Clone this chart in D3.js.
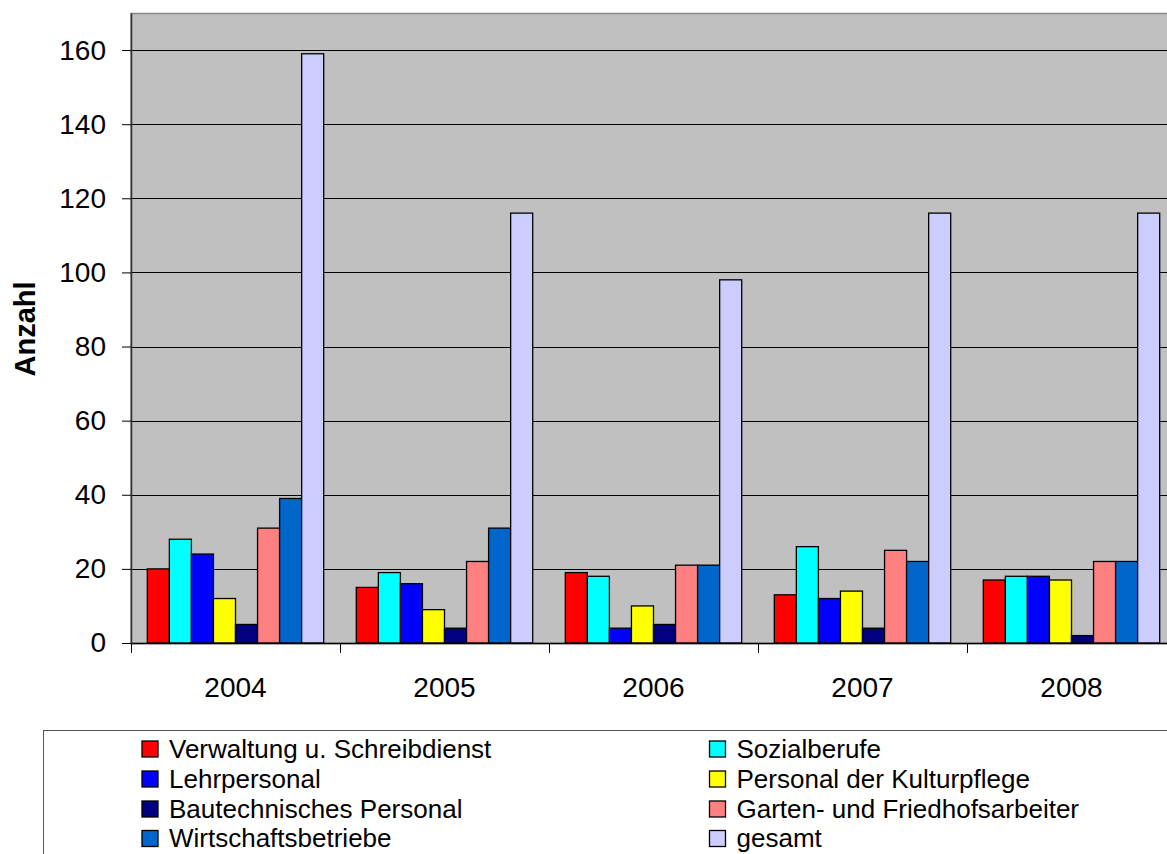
<!DOCTYPE html>
<html><head><meta charset="utf-8">
<script src="https://cdn.jsdelivr.net/npm/d3@7"></script>
<style>body{margin:0;background:#fff}svg{display:block;font-family:Arial,"Liberation Sans",sans-serif}</style>
</head><body><svg id="c" width="1167" height="854"></svg>
<script>
const years = ["2004","2005","2006","2007","2008"];
const seriesNames = ["Verwaltung u. Schreibdienst","Sozialberufe","Lehrpersonal","Personal der Kulturpflege","Bautechnisches Personal","Garten- und Friedhofsarbeiter","Wirtschaftsbetriebe","gesamt"];
const seriesColors = ["#ff0000","#00ffff","#0000ff","#ffff00","#000080","#ff8080","#0066cc","#ccccff"];
const verwaltung = [20,15,19,13,17];
const sozialberufe = [28,19,18,26,18];
const lehrpersonal = [24,16,4,12,18];
const kulturpflege = [12,9,10,14,17];
const bautechnisch = [5,4,5,4,2];
const garten = [31,22,21,25,22];
const wirtschaft = [39,31,21,22,22];
const gesamt = [159,116,98,116,116];
const seriesValues = [verwaltung,sozialberufe,lehrpersonal,kulturpflege,bautechnisch,garten,wirtschaft,gesamt];
const yTicks = [0,20,40,60,80,100,120,140,160];
const yMax = 170;
const yTitle = "Anzahl";

const svg = d3.select("#c");
const L = 131, R = 1176, T = 13, B = 643;
const x = d3.scaleBand().domain(years).range([L, R]).paddingInner(0).paddingOuter(0);
const bw = x.bandwidth();
const gap = bw * 0.078;
const xs = d3.scaleBand().domain(d3.range(seriesNames.length)).range([gap, bw - gap]).padding(0);
const y = d3.scaleLinear().domain([0, yMax]).range([B, T]);

svg.append("rect").attr("x", L).attr("y", T + 0.5).attr("width", R - L + 10).attr("height", B - T)
  .attr("fill", "#c0c0c0").attr("stroke", "#888").attr("stroke-width", 1.5);

// gridlines
svg.append("g").selectAll("line").data(yTicks.filter(d => d > 0)).join("line")
  .attr("x1", L).attr("x2", R + 10).attr("y1", d => Math.round(y(d)) + 0.5).attr("y2", d => Math.round(y(d)) + 0.5)
  .attr("stroke", "#000").attr("stroke-width", 1);

// bars
const groups = svg.append("g").selectAll("g").data(years).join("g")
  .attr("transform", d => `translate(${x(d)},0)`);
groups.selectAll("rect").data((yr, i) => seriesValues.map((s, k) => ({k, v: s[i]}))).join("rect")
  .attr("x", d => xs(d.k)).attr("width", xs.bandwidth())
  .attr("y", d => y(d.v)).attr("height", d => y(0) - y(d.v))
  .attr("fill", d => seriesColors[d.k]).attr("stroke", "#000").attr("stroke-width", 1.3);

// y axis
const ya = svg.append("g").attr("transform", `translate(${L},0)`)
  .call(d3.axisLeft(y).tickValues(yTicks).tickSize(9).tickPadding(16).tickSizeOuter(0));
ya.select(".domain").attr("stroke", "#333").attr("stroke-width", 1.5);
ya.selectAll(".tick line").attr("stroke", "#000");
ya.selectAll(".tick text").attr("font-size", 28).attr("fill", "#000").attr("font-family", "Arial, 'Liberation Sans', sans-serif");

// x axis
const xa = svg.append("g").attr("transform", `translate(0,${B})`);
xa.append("line").attr("x1", L).attr("x2", R + 10).attr("y1", 0.5).attr("y2", 0.5).attr("stroke", "#000").attr("stroke-width", 1.5);
xa.selectAll("line.tk").data(years.map(d => x(d)).concat([R])).join("line").attr("class", "tk")
  .attr("x1", d => Math.round(d) + 0.5).attr("x2", d => Math.round(d) + 0.5).attr("y1", 0).attr("y2", 10).attr("stroke", "#000");
xa.selectAll("text").data(years).join("text")
  .attr("x", d => x(d) + bw / 2).attr("y", 54).attr("text-anchor", "middle").attr("font-size", 28).text(d => d);

// y title
svg.append("text").attr("transform", "translate(35,329) rotate(-90)").attr("text-anchor", "middle")
  .attr("font-size", 29).attr("font-weight", "bold").text(yTitle);

// legend
svg.append("rect").attr("x", 43.5).attr("y", 730.5).attr("width", 1200).attr("height", 200)
  .attr("fill", "#fff").attr("stroke", "#555").attr("stroke-width", 1);
const colX = [142, 709.5], rowY = [749, 779, 809, 838.5];
const leg = svg.append("g").selectAll("g").data(seriesNames).join("g")
  .attr("transform", (d, i) => `translate(${colX[i % 2]},${rowY[Math.floor(i / 2)]})`);
leg.append("rect").attr("x", 0).attr("y", -8).attr("width", 16).attr("height", 16)
  .attr("fill", (d, i) => seriesColors[i]).attr("stroke", "#000").attr("stroke-width", 1.3);
leg.append("text").attr("x", 27).attr("y", 8.7).attr("font-size", 26).text(d => d);
</script></body></html>
